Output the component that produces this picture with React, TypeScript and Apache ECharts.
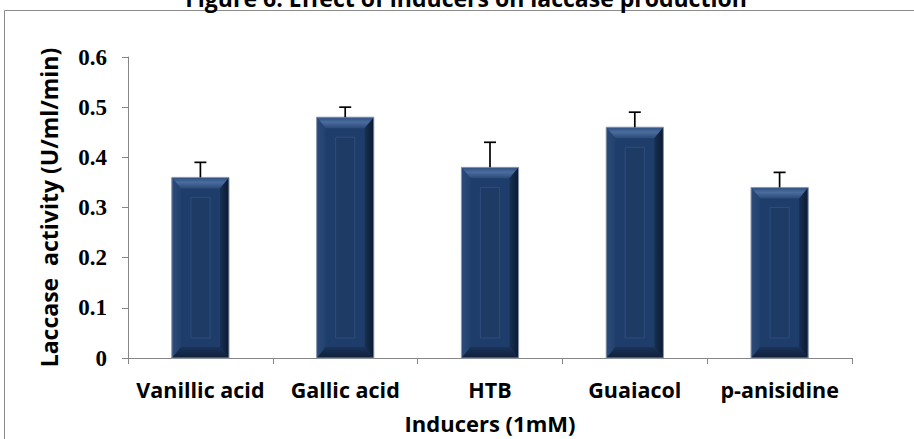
import React, { useEffect, useRef } from "react";
import * as echarts from "echarts";

const categories = ["Vanillic acid", "Gallic acid", "HTB", "Guaiacol", "p-anisidine"];
const activity = [0.36, 0.48, 0.38, 0.46, 0.34];
const errorUpper = [0.39, 0.5, 0.43, 0.49, 0.37];
const yTicks = [0, 0.1, 0.2, 0.3, 0.4, 0.5, 0.6];

const titleText = "Figure 6: Effect of inducers on laccase production";
const yName = "Laccase  activity (U/ml/min)";
const xName = "Inducers (1mM)";

const FONT = "'Open Sans', sans-serif";

export default function App() {
  const ref = useRef<HTMLDivElement>(null);
  useEffect(() => {
    document.body.style.margin = "0";
    if (!ref.current) return;
    const chart = echarts.init(ref.current, null, { renderer: "svg" });

    const barData = activity.map((v, i) => [i, v]);
    const errData = errorUpper.map((v, i) => [i, activity[i], v]);

    const renderBar = (params: any, api: any) => {
      const idx = api.value(0);
      const val = api.value(1);
      const top = api.coord([idx, val]);
      const base = api.coord([idx, 0]);
      const band = api.size([1, 0])[0];
      const w = band * 0.395;
      const L = top[0] - w / 2;
      const R = top[0] + w / 2;
      const T = top[1];
      const B = base[1];
      const bx = 9;
      const by = 11;
      const gi = 19;
      return {
        type: "group",
        children: [
          {
            type: "rect",
            shape: { x: L, y: T, width: R - L, height: B - T },
            style: { fill: "#1f3d6a" },
          },
          {
            type: "polygon",
            shape: { points: [[L, T], [R, T], [R - bx, T + by], [L + bx, T + by]] },
            style: {
              fill: new echarts.graphic.LinearGradient(0, 0, 0, 1, [
                { offset: 0, color: "#2f5080" },
                { offset: 0.45, color: "#4a6c9e" },
                { offset: 1, color: "#2a4a78" },
              ]),
            },
          },
          {
            type: "polygon",
            shape: { points: [[L, B], [R, B], [R - bx, B - by], [L + bx, B - by]] },
            style: {
              fill: new echarts.graphic.LinearGradient(0, 0, 0, 1, [
                { offset: 0, color: "#1a3358" },
                { offset: 1, color: "#0f1f3a" },
              ]),
            },
          },
          {
            type: "polygon",
            shape: { points: [[L, T], [L + bx, T + by], [L + bx, B - by], [L, B]] },
            style: {
              fill: new echarts.graphic.LinearGradient(0, 0, 1, 0, [
                { offset: 0, color: "#2c4b7a" },
                { offset: 1, color: "#23416d" },
              ]),
            },
          },
          {
            type: "polygon",
            shape: { points: [[R, T], [R - bx, T + by], [R - bx, B - by], [R, B]] },
            style: {
              fill: new echarts.graphic.LinearGradient(0, 0, 1, 0, [
                { offset: 0, color: "#173053" },
                { offset: 1, color: "#0b1930" },
              ]),
            },
          },
          {
            type: "rect",
            shape: { x: L + gi, y: T + gi + 1, width: R - L - 2 * gi, height: Math.max(0, B - T - 2 * gi - 2) },
            style: { fill: "#1e3b66", stroke: "#2d4d7d", lineWidth: 1 },
          },
          {
            type: "rect",
            shape: { x: L, y: T, width: R - L, height: B - T },
            style: { fill: "none", stroke: "#8d9bb0", lineWidth: 1 },
          },
        ],
      };
    };

    const renderErr = (params: any, api: any) => {
      const idx = api.value(0);
      const p0 = api.coord([idx, api.value(1)]);
      const p1 = api.coord([idx, api.value(2)]);
      const cap = 6;
      const st = { stroke: "#000000", lineWidth: 1.7 };
      return {
        type: "group",
        children: [
          { type: "line", shape: { x1: p0[0], y1: p0[1], x2: p1[0], y2: p1[1] }, style: st },
          { type: "line", shape: { x1: p1[0] - cap, y1: p1[1], x2: p1[0] + cap, y2: p1[1] }, style: st },
        ],
      };
    };

    chart.setOption({
      animation: false,
      grid: { left: 128, right: 62, top: 57, bottom: 81, containLabel: false },
      graphic: [
        {
          type: "rect",
          z: -10,
          shape: { x: 4.5, y: 10.5, width: 2000, height: 2000 },
          style: { fill: "none", stroke: "#8a8a8a", lineWidth: 1 },
        },
        {
          type: "text",
          x: 466,
          y: 9,
          style: {
            text: titleText,
            font: `bold 23px ${FONT}`,
            fill: "#000",
            textAlign: "center",
            textVerticalAlign: "bottom",
          },
        },
      ],
      xAxis: {
        type: "category",
        data: categories,
        boundaryGap: true,
        name: xName,
        nameLocation: "middle",
        nameGap: 54,
        nameTextStyle: { fontFamily: FONT, fontWeight: "bold", fontSize: 22, color: "#000" },
        axisLine: { show: true, lineStyle: { color: "#868686", width: 1 } },
        axisTick: { show: true, length: 6, alignWithLabel: false, lineStyle: { color: "#868686" } },
        axisLabel: { margin: 20, fontFamily: FONT, fontWeight: "bold", fontSize: 21.5, color: "#000", interval: 0 },
      },
      yAxis: {
        type: "value",
        min: yTicks[0],
        max: yTicks[yTicks.length - 1],
        interval: 0.1,
        name: yName,
        nameLocation: "middle",
        nameGap: 68,
        nameRotate: 90,
        nameTextStyle: { fontFamily: FONT, fontWeight: "bold", fontSize: 23, color: "#000" },
        axisLine: { show: true, lineStyle: { color: "#868686", width: 1 } },
        axisTick: { show: true, length: 6, lineStyle: { color: "#868686" } },
        splitLine: { show: false },
        axisLabel: {
          margin: 21,
          fontFamily: "'Liberation Serif', serif",
          fontWeight: "bold",
          fontSize: 23,
          color: "#000",
          formatter: (v: number) => (v === 0 ? "0" : v.toFixed(1)),
        },
      },
      series: [
        {
          type: "custom",
          renderItem: renderBar,
          data: barData,
          encode: { x: 0, y: 1 },
          z: 2,
        },
        {
          type: "custom",
          renderItem: renderErr,
          data: errData,
          encode: { x: 0, y: [1, 2] },
          z: 3,
        },
      ],
    });
    return () => chart.dispose();
  }, []);
  return <div ref={ref} style={{ width: 914, height: 439 }} />;
}
